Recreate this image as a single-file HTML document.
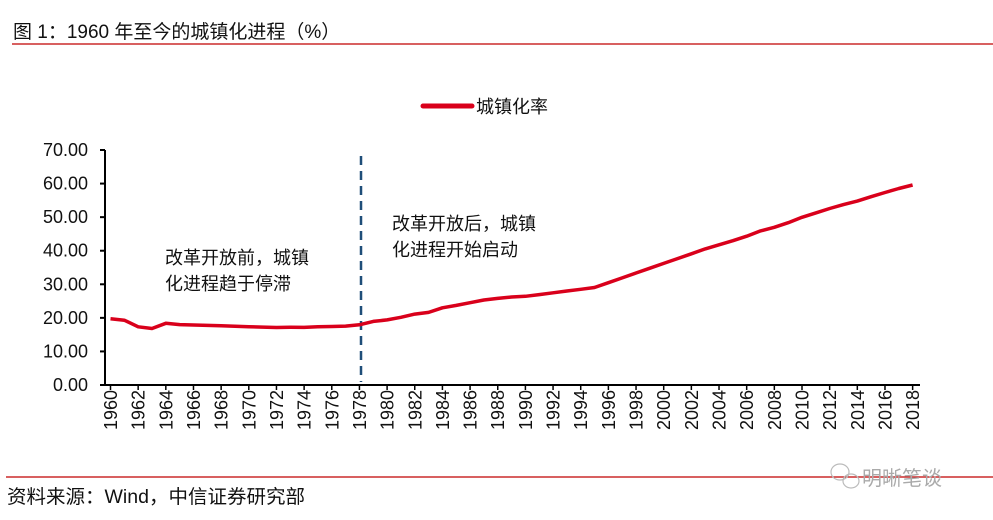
<!DOCTYPE html>
<html><head><meta charset="utf-8">
<style>
html,body{margin:0;padding:0;background:#fff;}
svg{display:block;font-family:"Liberation Sans","Noto Sans CJK SC",sans-serif;}
</style></head>
<body>
<svg id="s" width="993" height="520" viewBox="0 0 993 520">
<text x="13" y="38" font-size="19" fill="#111">图 1：1960 年至今的城镇化进程（%）</text>
<line x1="12" y1="44" x2="993" y2="44" stroke="#c00000" stroke-width="1.3"/>
<line x1="423" y1="106" x2="472" y2="106" stroke="#d9001b" stroke-width="5" stroke-linecap="round"/>
<text x="476" y="113" font-size="18" fill="#111">城镇化率</text>
<g font-size="18" fill="#111">
<text x="165" y="264">改革开放前，城镇</text>
<text x="165" y="290">化进程趋于停滞</text>
<text x="392" y="230">改革开放后，城镇</text>
<text x="392" y="256">化进程开始启动</text>
</g>
<g id="yax" font-size="18" fill="#111" text-anchor="end"></g>
<g id="xax" font-size="18" fill="#111"></g>
<line x1="105" y1="150" x2="105" y2="386" stroke="#000" stroke-width="2"/>
<line x1="104" y1="385" x2="920" y2="385" stroke="#000" stroke-width="2"/>
<line x1="361" y1="156" x2="361" y2="382" stroke="#1f4e79" stroke-width="2.5" stroke-dasharray="9,6"/>
<polyline id="ln" fill="none" stroke="#d9001b" stroke-width="3.5" stroke-linejoin="round"/>
<line x1="6" y1="477" x2="993" y2="477" stroke="#c00000" stroke-width="1.3"/>
<text x="7" y="503" font-size="19" fill="#111" textLength="298" lengthAdjust="spacingAndGlyphs">资料来源：Wind，中信证券研究部</text>
<g stroke="#bbb" fill="none" stroke-width="1.2"><ellipse cx="840" cy="472" rx="9" ry="8"/><ellipse cx="851" cy="481" rx="8" ry="7"/></g>
<text x="862" y="485" font-size="20" fill="#aaa">明晰笔谈</text>
</svg>
<script>
var d=[19.75,19.29,17.33,16.84,18.37,17.98,17.86,17.74,17.62,17.5,17.38,17.26,17.13,17.2,17.16,17.34,17.44,17.55,17.92,18.96,19.39,20.16,21.13,21.62,23.01,23.71,24.52,25.32,25.81,26.21,26.41,26.94,27.46,27.99,28.51,29.04,30.48,31.91,33.35,34.78,36.22,37.66,39.09,40.53,41.76,42.99,44.34,45.89,46.99,48.34,49.95,51.27,52.57,53.73,54.77,56.1,57.35,58.52,59.58];
function X(i){return 110.5+i*13.83;}function Y(v){return 385-v*3.357;}
var p=d.map(function(v,i){return X(i).toFixed(1)+","+Y(v).toFixed(1)}).join(" ");
document.getElementById("ln").setAttribute("points",p);
var ns="http://www.w3.org/2000/svg",ya=document.getElementById("yax"),xa=document.getElementById("xax"),s=document.getElementById("s");
for(var k=0;k<=7;k++){var y=Y(k*10);var t=document.createElementNS(ns,"text");t.setAttribute("x",88);t.setAttribute("y",y+6);t.textContent=(k*10).toFixed(2);ya.appendChild(t);
var l=document.createElementNS(ns,"line");l.setAttribute("x1",100);l.setAttribute("x2",105);l.setAttribute("y1",y);l.setAttribute("y2",y);l.setAttribute("stroke","#000");l.setAttribute("stroke-width","2");s.appendChild(l);}
for(var i=0;i<=58;i+=2){var x=X(i);var t=document.createElementNS(ns,"text");t.setAttribute("transform","translate("+(x+6.5)+",390) rotate(-90)");t.setAttribute("text-anchor","end");t.textContent=1960+i;xa.appendChild(t);
var l=document.createElementNS(ns,"line");l.setAttribute("x1",x);l.setAttribute("x2",x);l.setAttribute("y1",385);l.setAttribute("y2",390);l.setAttribute("stroke","#000");l.setAttribute("stroke-width","1.5");s.appendChild(l);}
</script>
</body></html>
